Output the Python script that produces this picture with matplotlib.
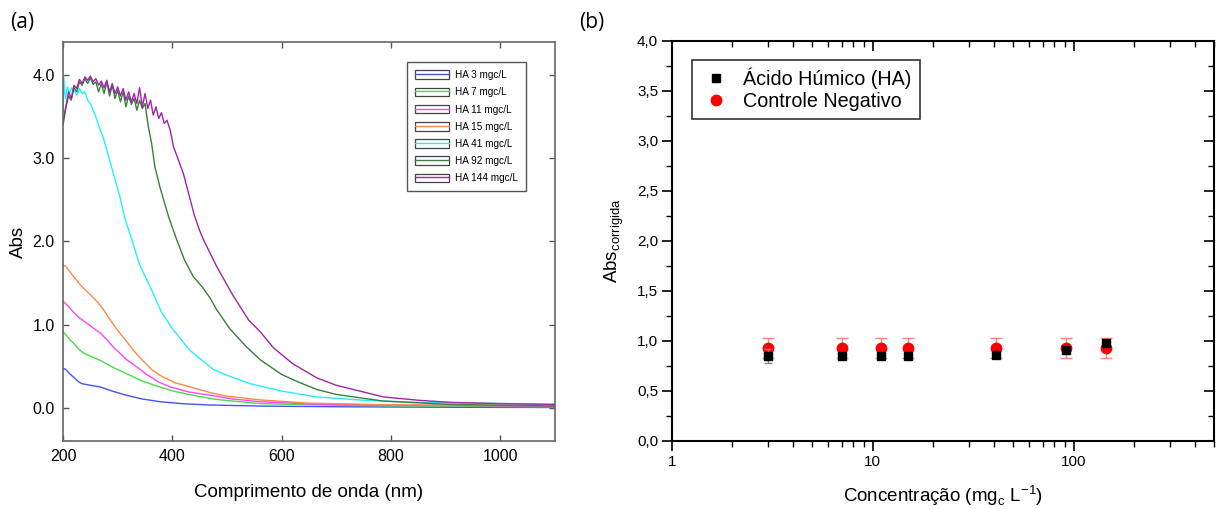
import matplotlib
matplotlib.use("Agg")
import matplotlib.pyplot as plt
from matplotlib.lines import Line2D
from matplotlib.patches import Rectangle
from matplotlib.ticker import MultipleLocator, FixedLocator, FuncFormatter, LogLocator, NullFormatter

plt.rcParams["font.family"] = ["Liberation Sans", "DejaVu Sans"]

# ---- (a) UV-Vis spectra: wavelength (nm) and absorbance ----
wl_3 = [200, 205, 212, 219, 227, 234, 250, 268, 290, 316, 345, 377, 420, 469, 560, 700, 900, 1100]
abs_3 = [0.475, 0.46, 0.41, 0.37, 0.32, 0.29, 0.27, 0.25, 0.20, 0.15, 0.105, 0.073, 0.048, 0.033, 0.02, 0.012, 0.006, 0.003]

wl_7 = [200, 205, 212, 219, 228, 237, 250, 268, 290, 316, 345, 377, 405, 438, 480, 560, 700, 900, 1100]
abs_7 = [0.915, 0.88, 0.82, 0.78, 0.71, 0.66, 0.62, 0.57, 0.49, 0.41, 0.32, 0.25, 0.195, 0.15, 0.10, 0.05, 0.03, 0.02, 0.01]

wl_11 = [200, 210, 219, 230, 243, 255, 268, 280, 292, 305, 316, 335, 353, 375, 396, 430, 469, 510, 560, 650, 800, 1100]
abs_11 = [1.28, 1.22, 1.15, 1.08, 1.02, 0.96, 0.90, 0.82, 0.73, 0.65, 0.58, 0.49, 0.40, 0.31, 0.25, 0.19, 0.15, 0.105,
          0.073, 0.045, 0.03, 0.02]

wl_15 = [200, 205, 219, 237, 250, 262, 274, 286, 300, 316, 330, 347, 362, 377, 405, 438, 470, 499, 560, 650, 800, 1100]
abs_15 = [1.72, 1.70, 1.58, 1.44, 1.36, 1.28, 1.18, 1.06, 0.93, 0.80, 0.68, 0.56, 0.46, 0.39, 0.30, 0.24, 0.18, 0.14,
          0.095, 0.055, 0.035, 0.025]

wl_41 = [200, 201, 204, 208, 212, 216, 220, 225, 230, 235, 240, 245, 250, 255, 260, 268, 274, 280, 286, 292, 298,
         304, 313, 326, 340, 359, 380, 400, 432, 475, 500, 542, 600, 664, 750, 850, 1000, 1100]
abs_41 = [3.55, 4.00, 3.72, 3.86, 3.78, 3.85, 3.82, 3.76, 3.84, 3.78, 3.80, 3.70, 3.66, 3.58, 3.50, 3.34, 3.24, 3.10,
          2.96, 2.82, 2.68, 2.54, 2.28, 2.02, 1.72, 1.46, 1.15, 0.95, 0.69, 0.46, 0.39, 0.29, 0.20, 0.13, 0.09, 0.065,
          0.05, 0.04]

wl_92 = [200, 205, 210, 215, 220, 225, 230, 235, 240, 245, 250, 255, 260, 265, 270, 275, 280, 285, 290,
         295, 300, 305, 310, 315, 320, 325, 330, 335, 340, 345, 350, 356, 362, 368, 377, 384, 393, 408,
         422, 438, 455, 469, 481, 505, 536, 560, 600, 630, 664, 700, 786, 908, 1000, 1100]
abs_92 = [3.40, 3.60, 3.75, 3.70, 3.85, 3.80, 3.92, 3.88, 3.96, 3.90, 3.97, 3.89, 3.92, 3.80, 3.90, 3.78, 3.92, 3.75, 3.88,
          3.72, 3.82, 3.68, 3.80, 3.62, 3.75, 3.65, 3.72, 3.58, 3.70, 3.60, 3.66, 3.38, 3.18, 2.90, 2.66, 2.50, 2.30, 2.02,
          1.78, 1.58, 1.45, 1.32, 1.18, 0.95, 0.73, 0.58, 0.40, 0.31, 0.22, 0.16, 0.08, 0.04, 0.03, 0.02]

wl_144 = [200, 205, 210, 215, 220, 225, 230, 235, 240, 245, 250, 255, 260, 265, 270, 275, 280, 285, 290,
          295, 300, 305, 310, 315, 320, 325, 330, 335, 340, 345, 350, 355, 360, 365, 370, 375, 380, 385,
          390, 396, 402, 410, 420, 430, 440, 450, 457, 481, 510, 540, 560, 585, 620, 664, 700, 786, 850,
          908, 1000, 1100]
abs_144 = [3.45, 3.62, 3.80, 3.72, 3.88, 3.84, 3.95, 3.90, 3.98, 3.94, 3.99, 3.92, 3.96, 3.88, 3.93, 3.85, 3.94, 3.80, 3.90,
           3.78, 3.86, 3.75, 3.84, 3.70, 3.80, 3.68, 3.78, 3.66, 3.85, 3.62, 3.78, 3.60, 3.70, 3.52, 3.62, 3.48, 3.55, 3.42,
           3.46, 3.34, 3.14, 3.00, 2.82, 2.57, 2.32, 2.13, 2.02, 1.70, 1.36, 1.05, 0.92, 0.72, 0.53, 0.36, 0.27, 0.13, 0.09,
           0.065, 0.05, 0.04]

spectra_labels = ["HA 3 mgc/L", "HA 7 mgc/L", "HA 11 mgc/L", "HA 15 mgc/L",
                  "HA 41 mgc/L", "HA 92 mgc/L", "HA 144 mgc/L"]
spectra_colors = ["#4455ee", "#44dd44", "#ff44ff", "#ff8844", "#22f0ff", "#3a7f3a", "#a024a8"]

# ---- (b) corrected absorbance vs concentration ----
conc = [3, 7, 11, 15, 41, 92, 144]
ha_abs = [0.847, 0.847, 0.847, 0.847, 0.863, 0.913, 0.975]
ha_err = [0.07, 0.02, 0.02, 0.02, 0.02, 0.02, 0.02]
neg_abs = [0.93, 0.93, 0.93, 0.93, 0.93, 0.925, 0.93]
neg_err = [0.10, 0.10, 0.10, 0.10, 0.10, 0.10, 0.10]

fig = plt.figure(figsize=(12.17, 5.09), dpi=100)

# ---------------- panel (a) ----------------
ax1 = fig.add_axes([0.0518, 0.1336, 0.4043, 0.7839])
series = [(wl_3, abs_3), (wl_7, abs_7), (wl_11, abs_11), (wl_15, abs_15),
          (wl_41, abs_41), (wl_92, abs_92), (wl_144, abs_144)]
handles = []
for (wl, ab), lab, col in zip(series, spectra_labels, spectra_colors):
    ax1.plot(wl, ab, color=col, lw=1.0)
    box = Rectangle((0, 0), 1, 1, facecolor="white", edgecolor="#444444", lw=0.9)
    ln = Line2D([], [], color=col, lw=1.0)
    handles.append((box, ln))

ax1.set_xlim(200, 1100)
ax1.set_ylim(-0.4, 4.4)
ax1.xaxis.set_major_locator(MultipleLocator(200))
ax1.yaxis.set_major_locator(FixedLocator([0, 1, 2, 3, 4]))
ax1.yaxis.set_major_formatter(FuncFormatter(lambda v, p: f"{v:.1f}"))
ax1.tick_params(direction="in", top=True, right=True, length=4, width=1,
                color="#555555", labelsize=11.5, pad=6)
for s in ax1.spines.values():
    s.set_color("#666666")
    s.set_linewidth(1.2)
ax1.set_xlabel("Comprimento de onda (nm)", fontsize=13.5, labelpad=14)
ax1.set_ylabel("Abs", fontsize=13.5, labelpad=4)
leg1 = ax1.legend(handles, spectra_labels, loc="upper right", bbox_to_anchor=(0.952, 0.962),
                  fontsize=7.2, handlelength=3.4, handleheight=0.95, labelspacing=0.72,
                  handletextpad=0.6, borderpad=0.8, fancybox=False, framealpha=1)
leg1.get_frame().set_edgecolor("#555555")
leg1.get_frame().set_linewidth(1.0)

fig.text(0.008, 0.945, "(a)", fontsize=15, family=["Open Sans", "DejaVu Sans"])
fig.text(0.476, 0.945, "(b)", fontsize=15, family=["Open Sans", "DejaVu Sans"])

# ---------------- panel (b) ----------------
ax2 = fig.add_axes([0.5522, 0.1336, 0.4454, 0.7859])
ax2.errorbar(conc, neg_abs, yerr=neg_err, fmt="o", color="red", ms=7.5,
             ecolor="#ff8080", elinewidth=1, capsize=4, capthick=1, zorder=3)
ax2.errorbar(conc, ha_abs, yerr=ha_err, fmt="s", color="black", ms=6,
             ecolor="#888888", elinewidth=1, capsize=3, capthick=1, zorder=4)
ax2.set_xscale("log")
ax2.set_xlim(1, 500)
ax2.set_ylim(0, 4)
ax2.xaxis.set_major_locator(LogLocator(base=10, numticks=10))
ax2.xaxis.set_minor_locator(LogLocator(base=10, subs=range(2, 10), numticks=10))
ax2.xaxis.set_minor_formatter(NullFormatter())
ax2.xaxis.set_major_formatter(FuncFormatter(lambda v, p: f"{v:g}"))
ax2.yaxis.set_major_locator(MultipleLocator(0.5))
ax2.yaxis.set_minor_locator(MultipleLocator(0.25))
ax2.yaxis.set_major_formatter(FuncFormatter(lambda v, p: f"{v:.1f}".replace(".", ",")))
ax2.tick_params(which="major", direction="out", length=7, width=1.2, labelsize=11, pad=3)
ax2.tick_params(which="minor", direction="out", length=4, width=1.0)
# Origin style: ticks inside on top and right
ax2.tick_params(which="both", top=True, right=True)
for tick in ax2.xaxis.get_major_ticks() + ax2.xaxis.get_minor_ticks():
    tick.tick2line.set_marker(3)
for tick in ax2.yaxis.get_major_ticks() + ax2.yaxis.get_minor_ticks():
    tick.tick2line.set_marker(0)
for s in ax2.spines.values():
    s.set_linewidth(1.5)
ax2.set_xlabel("Concentração (mg$_\\mathregular{c}$ L$^{\\mathregular{-1}}$)", fontsize=13.5, labelpad=10)
ax2.set_ylabel("Abs$_{\\mathregular{corrigida}}$", fontsize=13.5, labelpad=8)
leg_handles = [Line2D([], [], ls="none", marker="s", color="black", ms=6),
               Line2D([], [], ls="none", marker="o", color="red", ms=7.5)]
leg2 = ax2.legend(leg_handles, ["Ácido Húmico (HA)", "Controle Negativo"],
                  loc="upper left", bbox_to_anchor=(0.037, 0.9525), borderaxespad=0,
                  fontsize=14.2, handletextpad=0.6, labelspacing=0.15, borderpad=0.4,
                  fancybox=False, framealpha=1, handlelength=1.6)
leg2.get_frame().set_edgecolor("#333333")
leg2.get_frame().set_linewidth(1.2)

fig.savefig("out.png", dpi=100)
